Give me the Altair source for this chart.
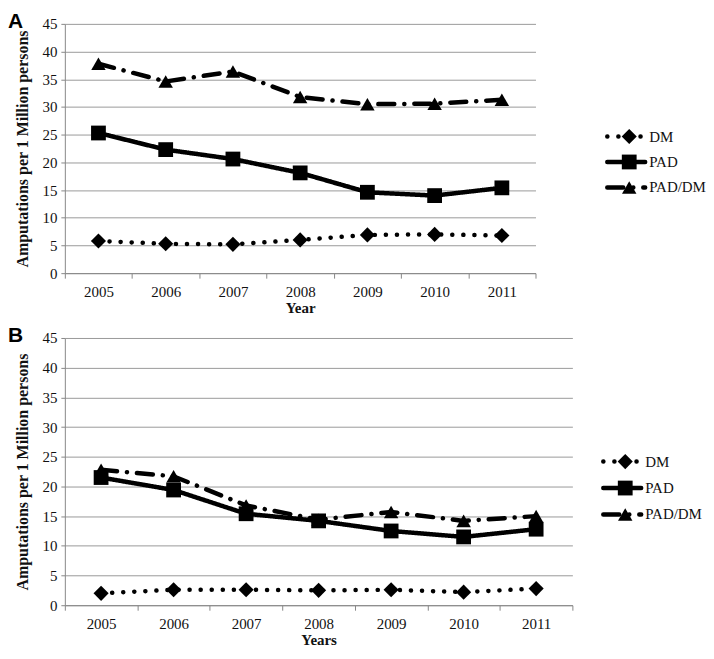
import altair as alt
import pandas as pd

years = [2005, 2006, 2007, 2008, 2009, 2010, 2011]
series = ["DM", "PAD", "PAD/DM"]

a_dm = [5.8, 5.3, 5.2, 6.0, 6.9, 7.0, 6.8]
a_pad = [25.3, 22.3, 20.6, 18.1, 14.6, 14.0, 15.4]
a_paddm = [37.8, 34.6, 36.4, 31.8, 30.5, 30.6, 31.3]

b_dm = [2.0, 2.6, 2.6, 2.5, 2.6, 2.2, 2.8]
b_pad = [21.5, 19.4, 15.4, 14.2, 12.5, 11.5, 12.8]
b_paddm = [22.8, 21.7, 16.8, 14.4, 15.7, 14.2, 15.0]

FONT = "Liberation Serif"


def make_df(dm, pad, paddm):
    rows = []
    for s, vals in zip(series, [dm, pad, paddm]):
        for y, v in zip(years, vals):
            rows.append({"year": str(y), "series": s, "value": v})
    return pd.DataFrame(rows)


def panel(df, letter, xtitle, w, h, leg_range, title_pad):
    x = alt.X("year:O", scale=alt.Scale(type="band", paddingInner=0, paddingOuter=0),
              axis=alt.Axis(title=xtitle, labelAngle=0, tickBand="extent", grid=False,
                            labelFont=FONT, labelFontSize=15, labelColor="#111",
                            titleFont=FONT, titleFontSize=15, titleFontWeight="bold",
                            titleColor="#111", domainColor="#888", tickColor="#888",
                            tickSize=5, labelPadding=6, titlePadding=1))
    y = alt.Y("value:Q", scale=alt.Scale(domain=[0, 45], nice=False),
              axis=alt.Axis(title="Amputations per 1 Million persons",
                            values=list(range(0, 46, 5)), grid=True, gridColor="#9a9a9a",
                            domainColor="#888", tickColor="#888", tickSize=4,
                            labelFont=FONT, labelFontSize=15, labelColor="#111",
                            labelPadding=4, titleFont=FONT, titleFontSize=16,
                            titleFontWeight="bold", titleColor="#111",
                            titlePadding=title_pad))
    base = alt.Chart(df).encode(x=x, y=y)
    lines = base.mark_line(color="black", strokeWidth=4.5, strokeCap="round").encode(
        strokeDash=alt.StrokeDash("series:N", legend=None,
                                  scale=alt.Scale(domain=series,
                                                  range=[[0.1, 11], [1, 0], [16, 10, 0.1, 10]])),
        detail="series:N")
    pts = base.mark_point(filled=True, color="black", opacity=1).encode(
        shape=alt.Shape("series:N", legend=None,
                        scale=alt.Scale(domain=series, range=["diamond", "square", "triangle-up"])),
        size=alt.Size("series:N", legend=None,
                      scale=alt.Scale(domain=series, range=[230, 210, 230])))
    lab = alt.Chart(pd.DataFrame({"t": [letter]})).mark_text(
        font="Liberation Sans", fontSize=21, fontWeight="bold", align="left",
        baseline="top", color="black").encode(
        text="t:N", x=alt.value(-57), y=alt.value(-13))
    plot = alt.layer(lines, pts, lab).properties(width=w, height=h)

    ldf = pd.DataFrame({"series": series})
    ly = alt.Y("series:N", axis=None,
               scale=alt.Scale(type="point", domain=series, range=leg_range, padding=0))
    lbase = alt.Chart(ldf).encode(y=ly)
    lrule = lbase.mark_rule(color="black", strokeWidth=4.5, strokeCap="round").encode(
        x=alt.value(2), x2=alt.value(40),
        strokeDash=alt.StrokeDash("series:N", legend=None,
                                  scale=alt.Scale(domain=series,
                                                  range=[[0.1, 12], [1, 0], [16, 20, 0.1, 30]])))
    lpts = lbase.mark_point(filled=True, color="black", opacity=1).encode(
        x=alt.value(24),
        shape=alt.Shape("series:N", legend=None,
                        scale=alt.Scale(domain=series, range=["diamond", "square", "triangle-up"])),
        size=alt.Size("series:N", legend=None,
                      scale=alt.Scale(domain=series, range=[110, 100, 110])))
    ltxt = lbase.mark_text(font=FONT, fontSize=15, align="left", baseline="middle",
                           color="#111").encode(x=alt.value(44), text="series:N")
    leg = alt.layer(lrule, lpts, ltxt).properties(width=100, height=h)
    return plot, leg


plotA, legA = panel(make_df(a_dm, a_pad, a_paddm), "A", "Year", 472, 250, [113, 164], 11)
plotB, legB = panel(make_df(b_dm, b_pad, b_paddm), "B", "Years", 509, 268, [124, 177], 11)

rowA = alt.hconcat(plotA, legA, spacing=68)
rowB = alt.hconcat(plotB, legB, spacing=27)

chart = alt.vconcat(rowA, rowB, spacing=10).properties(
    padding={"top": 2, "left": 0, "right": 0, "bottom": 0},
    background="white").configure_view(strokeWidth=0)

chart.save("out.html", embed_options={"renderer": "svg", "actions": False})
